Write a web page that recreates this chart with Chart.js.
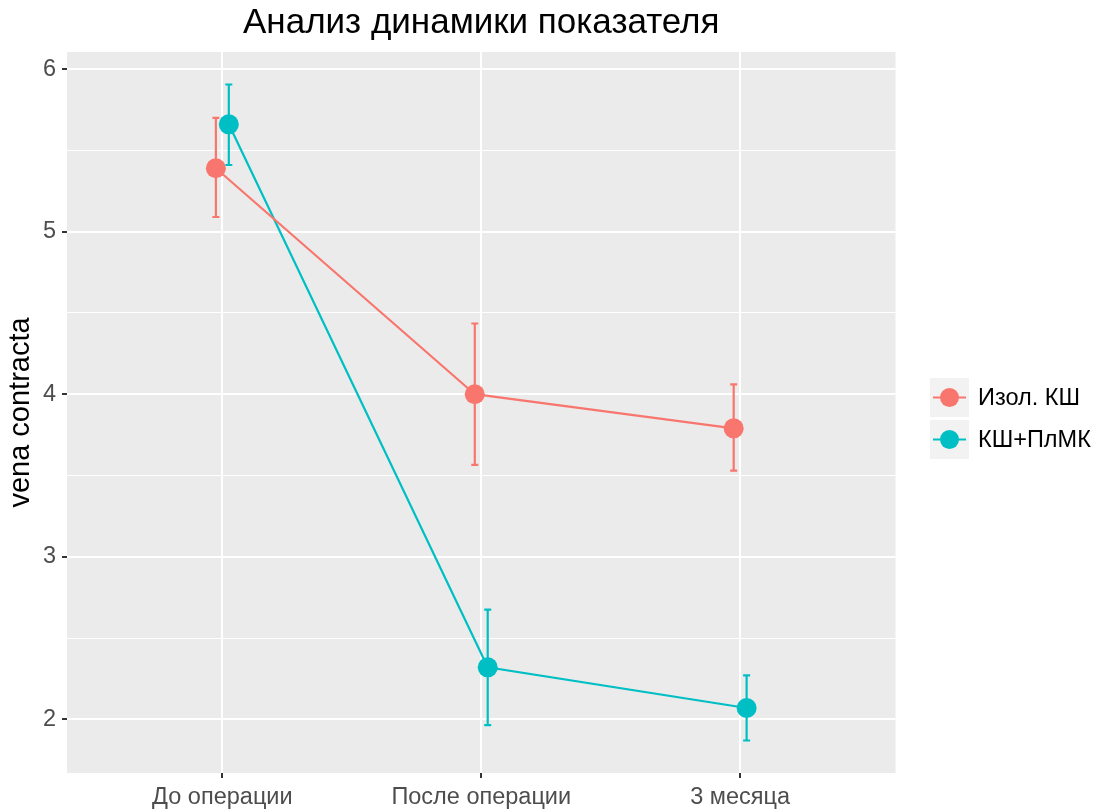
<!DOCTYPE html>
<html>
<head>
<meta charset="utf-8">
<title>vena contracta</title>
<script src="https://cdn.jsdelivr.net/npm/chart.js@4"></script>
<style>
  html, body { margin: 0; padding: 0; background: #fff; }
  #wrap { width: 1101px; height: 812px; }
</style>
</head>
<body>
<div id="wrap"><canvas id="myChart" width="1101" height="812"></canvas></div>
<script>
// группы по времени
const categories = ['До операции', 'После операции', '3 месяца'];

// Изол. КШ: среднее и границы интервала
const izolMean = [5.39, 4.00, 3.79];
const izolLow = [5.09, 3.565, 3.53];
const izolHigh = [5.70, 4.435, 4.06];

// КШ+ПлМК
const plmkMean = [5.66, 2.32, 2.07];
const plmkLow = [5.41, 1.965, 1.87];
const plmkHigh = [5.905, 2.675, 2.27];

const yTicks = [2, 3, 4, 5, 6];
const seriesNames = ['Изол. КШ', 'КШ+ПлМК'];
const seriesColors = ['#F8766D', '#00BFC4'];

const dodge = 0.025;
const FONT = '"Liberation Sans", Arial, sans-serif';

function toPoints(vals, shift) {
    return vals.map(function(v, i) { return {x: i + 1 + shift, y: v}; });
}

const errLow = [izolLow, plmkLow];
const errHigh = [izolHigh, plmkHigh];

// фон панели, планки погрешностей, заголовок, легенда
const ggPlugin = {
    id: 'ggplot',
    beforeDraw(chart) {
        const a = chart.chartArea, c = chart.ctx;
        c.save();
        c.fillStyle = '#EBEBEB';
        c.fillRect(a.left, a.top, a.right - a.left, a.bottom - a.top);
        c.restore();
    },
    beforeDatasetsDraw(chart) {
        const c = chart.ctx, xs = chart.scales.x, ys = chart.scales.y;
        c.save();
        c.lineWidth = 2.2;
        chart.data.datasets.forEach(function(ds, k) {
            c.strokeStyle = seriesColors[k];
            ds.data.forEach(function(p, i) {
                const x = xs.getPixelForValue(p.x);
                const y1 = ys.getPixelForValue(errLow[k][i]);
                const y2 = ys.getPixelForValue(errHigh[k][i]);
                c.beginPath();
                c.moveTo(x, y1); c.lineTo(x, y2);
                c.moveTo(x - 3.5, y1); c.lineTo(x + 3.5, y1);
                c.moveTo(x - 3.5, y2); c.lineTo(x + 3.5, y2);
                c.stroke();
            });
        });
        c.restore();
    },
    afterDraw(chart) {
        const a = chart.chartArea, c = chart.ctx;
        c.save();
        // заголовок
        c.fillStyle = '#000';
        c.font = '35px ' + FONT;
        c.textAlign = 'center';
        c.textBaseline = 'middle';
        c.fillText('Анализ динамики показателя', (a.left + a.right) / 2, 23);

        // подпись оси Y
        c.save();
        c.translate(21, (a.top + a.bottom) / 2);
        c.rotate(-Math.PI / 2);
        c.font = '29px ' + FONT;
        c.fillText('vena contracta', 0, 0);
        c.restore();

        // легенда
        const kx = 930, kw = 39, kh = 39;
        const ky = [378, 420];
        c.textAlign = 'left';
        c.font = '23.5px ' + FONT;
        seriesNames.forEach(function(name, k) {
            c.fillStyle = '#F2F2F2';
            c.fillRect(kx, ky[k], kw, kh);
            const cy = ky[k] + kh / 2;
            c.strokeStyle = seriesColors[k];
            c.lineWidth = 2.2;
            c.beginPath();
            c.moveTo(kx + 3, cy); c.lineTo(kx + kw - 3, cy);
            c.stroke();
            c.fillStyle = seriesColors[k];
            c.beginPath();
            c.arc(kx + kw / 2, cy, 9.5, 0, Math.PI * 2);
            c.fill();
            c.fillStyle = '#000';
            c.fillText(name, 978, cy + 1);
        });
        c.restore();
    }
};

const config = {
    type: 'line',
    data: {
        datasets: [
            {
                label: seriesNames[0],
                data: toPoints(izolMean, -dodge),
                borderColor: seriesColors[0],
                backgroundColor: seriesColors[0],
                borderWidth: 2.2,
                pointRadius: 10,
                pointBorderWidth: 0,
                pointHoverRadius: 10
            },
            {
                label: seriesNames[1],
                data: toPoints(plmkMean, dodge),
                borderColor: seriesColors[1],
                backgroundColor: seriesColors[1],
                borderWidth: 2.2,
                pointRadius: 10,
                pointBorderWidth: 0,
                pointHoverRadius: 10
            }
        ]
    },
    options: {
        responsive: false,
        animation: false,
        events: [],
        layout: { padding: { top: 52, right: 205.5, left: 0, bottom: 0 } },
        plugins: { legend: { display: false }, title: { display: false }, tooltip: { enabled: false } },
        scales: {
            x: {
                type: 'linear',
                min: 0.4,
                max: 3.6,
                afterBuildTicks: function(s) { s.ticks = [1, 2, 3].map(function(v) { return {value: v}; }); },
                afterFit: function(s) { s.height = 39; },
                grid: { color: '#FFFFFF', lineWidth: 2, tickLength: 5, tickColor: '#333333', tickWidth: 2 },
                border: { display: false },
                ticks: {
                    color: '#4D4D4D',
                    font: { family: FONT, size: 23.5 },
                    padding: 5,
                    maxRotation: 0,
                    callback: function(v) { return categories[v - 1]; }
                }
            },
            y: {
                min: 1.67,
                max: 6.105,
                afterBuildTicks: function(s) {
                    const t = [];
                    yTicks.forEach(function(v) { t.push({value: v}); if (v < 6) t.push({value: v + 0.5}); });
                    s.ticks = t;
                },
                afterFit: function(s) { s.width = 67; },
                grid: {
                    color: '#FFFFFF',
                    lineWidth: function(ctx) { return ctx.tick && ctx.tick.value % 1 === 0 ? 2 : 1; },
                    tickLength: 5,
                    tickWidth: 2,
                    tickColor: function(ctx) { return ctx.tick && ctx.tick.value % 1 === 0 ? '#333333' : 'rgba(0,0,0,0)'; }
                },
                border: { display: false },
                ticks: {
                    color: '#4D4D4D',
                    font: { family: FONT, size: 23.5 },
                    padding: 6,
                    callback: function(v) { return v % 1 === 0 ? String(v) : ''; }
                }
            }
        }
    },
    plugins: [ggPlugin]
};

const myChart = new Chart(document.getElementById('myChart'), config);
</script>
</body>
</html>
